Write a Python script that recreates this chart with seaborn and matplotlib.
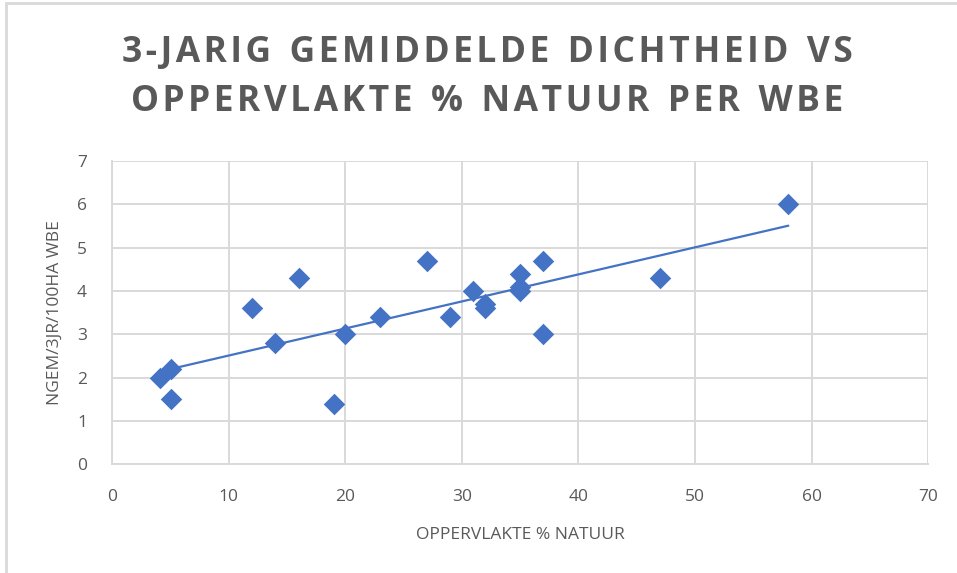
import numpy as np
import pandas as pd
import matplotlib
matplotlib.use("Agg")
import matplotlib.pyplot as plt
import seaborn as sns
from matplotlib.patches import Rectangle

# --- data ---
pct_natuur = [4.1, 5.1, 5.1, 12, 14, 16, 19, 20, 23, 27, 29, 31, 32, 32, 35, 35, 35, 37, 37, 47, 58]
dichtheid = [2.0, 2.2, 1.5, 3.6, 2.8, 4.3, 1.4, 3.0, 3.4, 4.7, 3.4, 4.0, 3.7, 3.6, 4.4, 4.1, 4.0, 4.7, 3.0, 4.3, 6.0]
trend_range = [5.1, 58]
x_ticks = [0, 10, 20, 30, 40, 50, 60, 70]
y_ticks = [0, 1, 2, 3, 4, 5, 6, 7]
title_lines = ["3-JARIG GEMIDDELDE DICHTHEID VS", "OPPERVLAKTE % NATUUR PER WBE"]

df = pd.DataFrame({"pct": pct_natuur, "dens": dichtheid})

BLUE = "#4472C4"
GREY = "#595959"
GRID = "#D9D9D9"

sns.set_style("white")
plt.rcParams["font.family"] = ["Open Sans", "DejaVu Sans"]


def spaced(text):
    # Excel-style letter spacing: hair space between letters, wider gap between words
    words = ["\u200a".join(w) for w in text.split(" ")]
    return "  ".join(words)


fig = plt.figure(figsize=(9.57, 5.73), dpi=100)
ax = fig.add_axes([0.117, 0.190, 0.853, 0.529])

# linear trendline (least squares, like Excel)
slope, intercept = np.polyfit(df["pct"], df["dens"], 1)
tx = np.array(trend_range)
ax.plot(tx, slope * tx + intercept, color=BLUE, lw=1.6, zorder=2)

sns.scatterplot(data=df, x="pct", y="dens", marker="D", s=120, color=BLUE,
                edgecolor=BLUE, linewidth=0, ax=ax, zorder=3)

ax.set_xlim(0, 70)
ax.set_ylim(0, 7)
ax.set_xticks(x_ticks)
ax.set_yticks(y_ticks)
ax.grid(True, color=GRID, lw=1.4)
ax.set_axisbelow(True)
for side in ["top", "right"]:
    ax.spines[side].set_visible(False)
for side in ["left", "bottom"]:
    ax.spines[side].set_color(GRID)
    ax.spines[side].set_linewidth(1.4)
ax.tick_params(axis="x", length=0, labelsize=12.5, colors=GREY, pad=18)
ax.tick_params(axis="y", length=0, labelsize=12.5, colors=GREY, pad=18)

ax.set_xlabel("OPPERVLAKTE % NATUUR", fontsize=12.5, color=GREY, labelpad=16)
ax.set_ylabel("NGEM/3JR/100HA WBE", fontsize=12.5, color=GREY, labelpad=10)

fig.text(0.509, 0.908, spaced(title_lines[0]), ha="center", va="center",
         fontsize=25.5, fontweight="bold", color=GREY)
fig.text(0.509, 0.822, spaced(title_lines[1]), ha="center", va="center",
         fontsize=25.5, fontweight="bold", color=GREY)

# light frame around the chart area
fig.patches.append(Rectangle((0.006, -0.01), 1.1, 1.005, transform=fig.transFigure,
                             fill=False, edgecolor="#D9D9D9", lw=2))

fig.savefig("out.png", dpi=100)
